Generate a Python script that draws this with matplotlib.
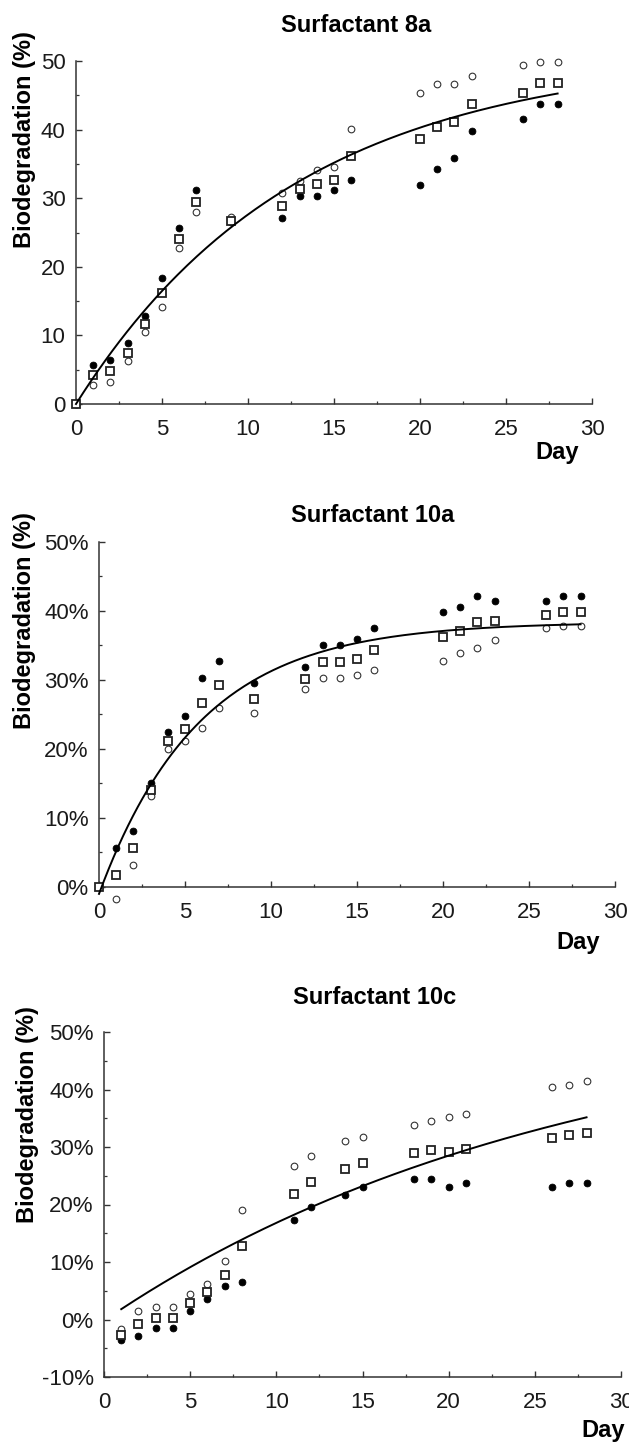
import numpy as np
import matplotlib.pyplot as plt
from matplotlib.ticker import MultipleLocator, FuncFormatter

plt.rcParams['font.family'] = ['Liberation Sans', 'DejaVu Sans']

# ---- data (percent biodegradation per day) ----
days_8a = [0, 1, 2, 3, 4, 5, 6, 7, 9, 12, 13, 14, 15, 16, 20, 21, 22, 23, 26, 27, 28]
filled_8a = [0, 5.7, 6.4, 8.9, 12.8, 18.4, 25.6, 31.2, 26.5, 27.1, 30.3, 30.3, 31.2, 32.7,
             31.9, 34.3, 35.9, 39.8, 41.5, 43.8, 43.8]
open_8a = [0, 2.8, 3.2, 6.2, 10.5, 14.2, 22.7, 28.0, 27.3, 30.8, 32.5, 34.1, 34.5, 40.1,
           45.3, 46.6, 46.6, 47.8, 49.4, 49.8, 49.8]
mean_8a = [0, 4.2, 4.8, 7.4, 11.6, 16.2, 24.1, 29.5, 26.7, 28.8, 31.3, 32.1, 32.7, 36.2,
           38.6, 40.4, 41.1, 43.8, 45.4, 46.8, 46.8]

days_10a = [0, 1, 2, 3, 4, 5, 6, 7, 9, 12, 13, 14, 15, 16, 20, 21, 22, 23, 26, 27, 28]
filled_10a = [0, 5.7, 8.1, 15.1, 22.4, 24.8, 30.3, 32.7, 29.6, 31.9, 35.1, 35.1, 35.9, 37.5,
              39.8, 40.6, 42.2, 41.4, 41.4, 42.2, 42.2]
open_10a = [0, -1.8, 3.2, 13.2, 20.0, 21.2, 23.1, 26.0, 25.2, 28.7, 30.3, 30.3, 30.7, 31.5,
            32.7, 33.9, 34.6, 35.8, 37.5, 37.8, 37.8]
mean_10a = [0, 1.8, 5.6, 14.0, 21.1, 22.9, 26.6, 29.3, 27.3, 30.2, 32.6, 32.6, 33.1, 34.3,
            36.2, 37.1, 38.4, 38.6, 39.4, 39.9, 39.9]

days_10c = [1, 2, 3, 4, 5, 6, 7, 8, 11, 12, 14, 15, 18, 19, 20, 21, 26, 27, 28]
filled_10c = [-3.6, -2.8, -1.4, -1.4, 1.4, 3.6, 5.8, 6.5, 17.3, 19.5, 21.7, 23.1,
              24.4, 24.4, 23.0, 23.7, 23.0, 23.7, 23.7]
open_10c = [-1.7, 1.5, 2.2, 2.2, 4.4, 6.2, 10.2, 19.1, 26.7, 28.5, 31.0, 31.7,
            33.9, 34.6, 35.3, 35.7, 40.4, 40.7, 41.4]
mean_10c = [-2.7, -0.8, 0.3, 0.3, 2.8, 4.7, 7.8, 12.8, 21.9, 23.9, 26.2, 27.3,
            29.0, 29.4, 29.1, 29.6, 31.5, 32.1, 32.4]

# first-order fit y = A*(1-exp(-k*(t-t0))), parameters estimated from the drawn curves
fit_8a = (51.0, 0.078, 0.0)
fit_10a = (38.4, 0.171, 0.15)
fit_10c = (54.2, 0.0375, 0.1)

W, H = 629, 1442
fig = plt.figure(figsize=(W / 100, H / 100), dpi=100)

# (title, days, filled, open, mean, fit, curve start, ylim, percent, box px, title px, ylabel px, day px)
panels = [
    ('Surfactant 8a', days_8a, filled_8a, open_8a, mean_8a, fit_8a, 0, (0, 50), False,
     (76, 61, 592, 404), (356, 26), (25, 140), (557, 452)),
    ('Surfactant 10a', days_10a, filled_10a, open_10a, mean_10a, fit_10a, 0, (0, 50), True,
     (99, 542, 615, 887), (373, 515), (25, 621), (578, 943)),
    ('Surfactant 10c', days_10c, filled_10c, open_10c, mean_10c, fit_10c, 1, (-10, 50), True,
     (104, 1032, 621, 1377), (375, 998), (28, 1115), (603, 1431)),
]

for (title, d, f, o, m, fit, t_start, ylim, pct, box, tpos, ypos, dpos) in panels:
    l, t, r, b = box
    ax = fig.add_axes([l / W, 1 - b / H, (r - l) / W, (b - t) / H])

    ax.plot(d, f, 'o', ms=4.9, mfc='black', mec='black', mew=0.6, clip_on=False, zorder=3)
    ax.plot(d, o, 'o', ms=4.8, mfc='white', mec='#333333', mew=0.8, clip_on=False, zorder=3)
    ax.plot(d, m, 's', ms=5.6, mfc='white', mec='#222222', mew=1.3, clip_on=False, zorder=4)

    A, k, t0 = fit
    tt = np.linspace(t_start, 28, 200)
    ax.plot(tt, A * (1 - np.exp(-k * (tt - t0))), color='black', lw=1.4, clip_on=False, zorder=5)

    ax.set_xlim(0, 30)
    ax.set_ylim(*ylim)
    ax.xaxis.set_major_locator(MultipleLocator(5))
    ax.xaxis.set_minor_locator(MultipleLocator(2.5))
    ax.yaxis.set_major_locator(MultipleLocator(10))
    ax.yaxis.set_minor_locator(MultipleLocator(5))
    if pct:
        ax.yaxis.set_major_formatter(FuncFormatter(lambda v, p: '%d%%' % round(v)))
    else:
        ax.yaxis.set_major_formatter(FuncFormatter(lambda v, p: '%d' % round(v)))

    for s in ['top', 'right']:
        ax.spines[s].set_visible(False)
    for s in ['left', 'bottom']:
        ax.spines[s].set_linewidth(1.1)
        ax.spines[s].set_color('#333333')

    ax.tick_params(which='both', direction='in', color='#333333', labelsize=16,
                   labelcolor='#1a1a1a')
    ax.tick_params(which='major', length=4.5, width=1.0)
    ax.tick_params(which='minor', length=2.2, width=0.9)
    ax.tick_params(axis='x', which='both', pad=11)
    ax.tick_params(axis='y', which='both', pad=7.5)

    fig.text(tpos[0] / W, 1 - tpos[1] / H, title, ha='center', va='center',
             fontsize=17, fontweight='bold')
    fig.text(ypos[0] / W, 1 - ypos[1] / H, 'Biodegradation (%)', ha='center', va='center',
             rotation=90, fontsize=17, fontweight='bold')
    fig.text(dpos[0] / W, 1 - dpos[1] / H, 'Day', ha='center', va='center',
             fontsize=17, fontweight='bold')

fig.savefig('out.png', dpi=100)
